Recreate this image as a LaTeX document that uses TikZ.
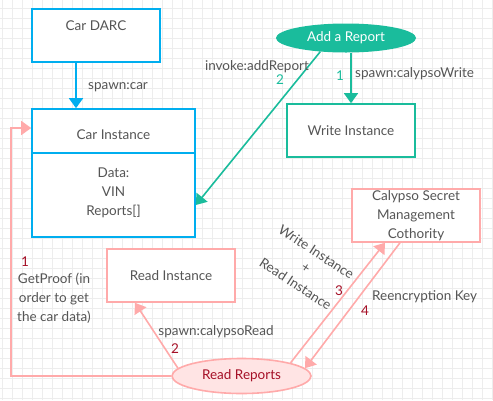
\documentclass[tikz,border=0pt]{standalone}
\usepackage{fontspec}
\setmainfont{Lato}
\usetikzlibrary{arrows.meta,shapes.geometric}
\definecolor{darcblue}{HTML}{00AEEF}
\definecolor{repgreen}{HTML}{1ABC9C}
\definecolor{calpink}{HTML}{FFAAAA}
\definecolor{readfill}{HTML}{FFE4E4}
\definecolor{numred}{HTML}{A50F26}
\definecolor{txtgray}{HTML}{555555}
\definecolor{gridgray}{HTML}{EDEDED}

\begin{document}
\begin{tikzpicture}[x=1pt, y=-1pt,
    gridline/.style={gridgray, line width=0.6pt},
    box/.style={draw, line width=1.6pt, fill=white, minimum width=128pt, minimum height=53pt, inner sep=0pt},
    txt/.style={text=txtgray, font=\fontsize{13.5}{19}\selectfont, align=center, inner sep=0pt},
    num/.style={font=\fontsize{13.5}{15}\selectfont, inner sep=0pt},
    link/.style={line width=1.6pt, -{Triangle[width=14pt,length=10pt]}}]
        \useasboundingbox (0,0) rectangle (493,400);
        \fill[white] (0,0) rectangle (493,400);
        \foreach \gx in {2,12,...,492}
            \draw[gridline] (\gx,0) -- (\gx,400);
        \foreach \gy in {8,18,...,398}
            \draw[gridline] (0,\gy) -- (493,\gy);

        \node[box, draw=darcblue] (darc) at (96,35.5) {};
        \node[txt] at (96,26) {Car DARC};
        \node[box, draw=darcblue, minimum width=163pt, minimum height=128pt] (carinst) at (113.5,173) {};
        \draw[darcblue, line width=1.6pt] ([yshift=20pt]carinst.west) -- ([yshift=20pt]carinst.east);
        \node[txt] at (113.5,135) {Car Instance};
        \node[txt] at (113.5,193) {Data:\\VIN\\Reports[]};

        \node[ellipse, fill=repgreen, minimum width=140pt, minimum height=29pt, inner sep=0pt,
            text=white, font=\fontsize{13.5}{15}\selectfont] (addrep) at (346,38) {Add a Report};
        \node[box, draw=repgreen] (write) at (351,130.5) {};
        \node[txt] at (351,130.5) {Write Instance};

        \node[box, draw=calpink] (calypso) at (416,215.5) {};
        \node[txt] at (416,216) {Calypso Secret\\Management\\Cothority};
        \node[box, draw=calpink] (readinst) at (171,275.5) {};
        \node[txt] at (171,276) {Read Instance};
        \node[ellipse, draw=calpink, line width=1.6pt, fill=readfill, minimum width=139pt, minimum height=35pt,
            inner sep=0pt, text=numred, font=\fontsize{13.5}{15}\selectfont] (readrep) at (241.5,376) {Read Reports};

        \draw[link, darcblue] ([xshift=-20pt]darc.south) -- ([xshift=-20pt]darc.south |- carinst.north);
        \node[txt, anchor=west] at (88,87) {spawn:car};

        \draw[link, repgreen] (addrep.south -| write.north) -- (write.north);
        \node[num, text=repgreen] at (340,76) {1};
        \node[txt, anchor=west] at (355,74) {spawn:calypsoWrite};
        \draw[link, repgreen] (addrep.208) -- ([yshift=-32pt]carinst.east);
        \node[txt] at (257,67) {invoke:addReport};
        \node[num, text=repgreen] at (280,80) {2};

        \coordinate (bend) at (11,128);
        \draw[link, calpink] (readrep.west) -| (bend) -- (bend -| carinst.west);
        \node[num, text=numred] at (25,262) {1};
        \node[txt] at (54,298) {GetProof (in\\order to get\\the car data)};

        \draw[link, calpink] (readrep.173) -- ([xshift=-36pt]readinst.south);
        \node[txt] at (216,332) {spawn:calypsoRead};
        \node[num, text=numred] at (175,349) {2};

        \draw[link, calpink] (readrep.15) -- ([xshift=-31pt]calypso.south);
        \draw[link, calpink] ([xshift=-16pt]calypso.south) -- (readrep.7);
        \node[txt, rotate=-33] at (306,268) {Write Instance\\+\\Read Instance};
        \node[num, text=numred] at (339,291) {3};
        \node[num, text=numred] at (365,311) {4};
        \node[txt, anchor=west] at (372,297) {Reencryption Key};
    \end{tikzpicture}
\end{document}
